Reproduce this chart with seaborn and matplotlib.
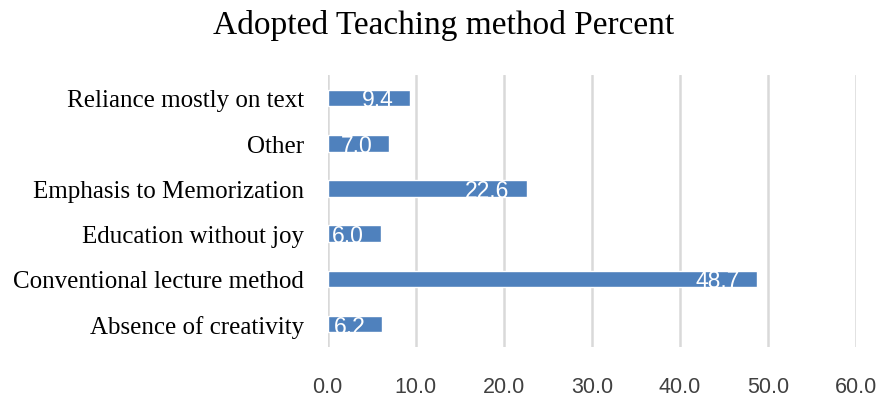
import matplotlib
matplotlib.use("Agg")
import matplotlib.pyplot as plt
import seaborn as sns
import pandas as pd
from matplotlib.transforms import offset_copy

categories = ["Reliance mostly on text", "Other", "Emphasis to Memorization",
              "Education without joy", "Conventional lecture method", "Absence of creativity"]
values = [9.4, 7.0, 22.6, 6.0, 48.7, 6.2]
xticks = [0, 10, 20, 30, 40, 50, 60]

sns.set_theme(style="white")
df = pd.DataFrame({"category": categories, "value": values})

fig = plt.figure(figsize=(8.88, 4.02), dpi=100)
ax = fig.add_axes([0.369, 0.135, 0.595, 0.675])
sns.barplot(data=df, y="category", x="value", orient="h", color="#4f81bd",
            width=0.37, saturation=1, ax=ax, zorder=3)

ax.set_xlim(0, 60)
ax.set_xticks(xticks)
ax.set_xticklabels([f"{t:.1f}" for t in xticks], fontfamily="Liberation Sans",
                   fontsize=15.5, color="#404040")
ax.tick_params(axis="x", length=0, pad=21)
ax.tick_params(axis="y", length=0, pad=17)
for lab in ax.get_yticklabels():
    lab.set_fontfamily("Liberation Serif")
    lab.set_fontsize(18)
    lab.set_color("black")
ax.set_xlabel("")
ax.set_ylabel("")
for s in ax.spines.values():
    s.set_visible(False)
ax.grid(axis="x", color="#d9d9d9", linewidth=1.8, zorder=0)
ax.set_axisbelow(True)

for i, v in enumerate(values):
    tr = offset_copy(ax.transData, fig=fig, x=-17, y=-2, units="dots")
    ax.text(v, i, f"{v:.1f}", transform=tr, ha="right", va="center",
            color="white", fontsize=16.5, fontfamily="Liberation Sans", zorder=4)

fig.suptitle("Adopted Teaching method Percent", fontfamily="Liberation Serif",
             fontsize=24, color="black", y=0.975)

fig.savefig("out.png", dpi=100)
